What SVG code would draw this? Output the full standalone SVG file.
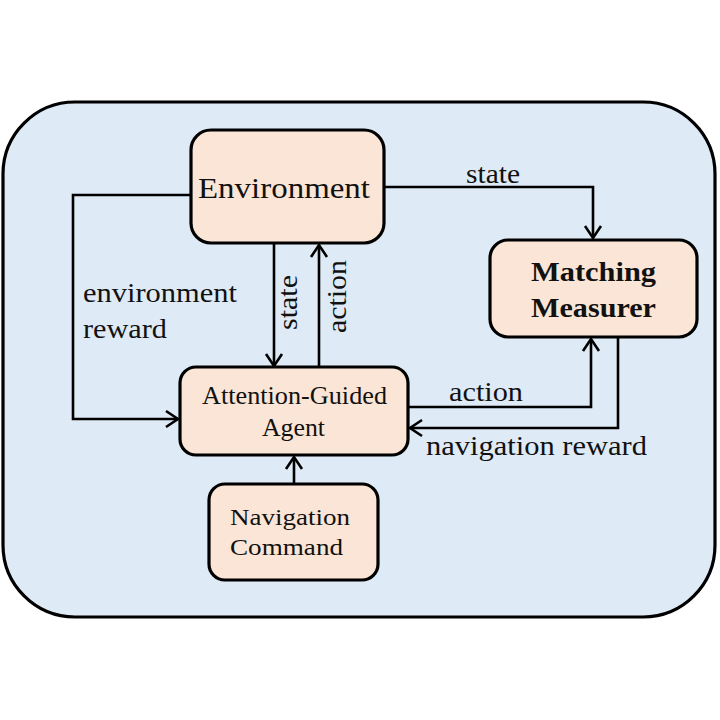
<svg xmlns="http://www.w3.org/2000/svg" width="720" height="720" viewBox="0 0 720 720">
<defs>
<marker id="arr" markerUnits="userSpaceOnUse" markerWidth="30" markerHeight="30" viewBox="-15 -15 30 30" refX="0" refY="0" orient="auto">
<path d="M-12,-8 L0,0 L-12,8" fill="none" stroke="#000" stroke-width="2.6"/>
</marker>
</defs>
<style>
.box{fill:#FBE5D6;stroke:#000;stroke-width:3.2}
.t{font-family:"Liberation Serif","Times New Roman",serif;fill:#111}
.c{fill:none;stroke:#000;stroke-width:2.6;marker-end:url(#arr)}
</style>
<rect width="720" height="720" fill="#fff"/>
<rect x="3" y="102" width="712" height="515" rx="72" ry="72" fill="#DEEAF6" stroke="#000" stroke-width="3.2"/>
<g id="connectors">
<path class="c" d="M192,195 H73 V419 H178"/>
<path class="c" d="M274,244 V366"/>
<path class="c" d="M319,367 V245"/>
<path class="c" d="M385,187 H593 V238"/>
<path class="c" d="M408,407 H591 V339"/>
<path class="c" d="M618,338 V428 H410"/>
<path class="c" d="M294,483 V457"/>
<text class="t" x="466" y="183" font-size="27" textLength="54" lengthAdjust="spacingAndGlyphs">state</text>
<text class="t" x="449" y="401" font-size="27" textLength="74" lengthAdjust="spacingAndGlyphs">action</text>
<text class="t" x="426" y="455" font-size="27" textLength="221" lengthAdjust="spacingAndGlyphs">navigation reward</text>
<text class="t" x="83" y="302" font-size="27" textLength="154" lengthAdjust="spacingAndGlyphs">environment</text>
<text class="t" x="83" y="338" font-size="27" textLength="84" lengthAdjust="spacingAndGlyphs">reward</text>
<text class="t" transform="translate(297,330) rotate(-90)" font-size="27" textLength="55" lengthAdjust="spacingAndGlyphs">state</text>
<text class="t" transform="translate(346,333) rotate(-90)" font-size="27" textLength="73" lengthAdjust="spacingAndGlyphs">action</text>
</g>
<g id="environment">
<rect class="box" x="191" y="130" width="193" height="113" rx="20"/>
<text class="t" x="198" y="198" font-size="29" textLength="172" lengthAdjust="spacingAndGlyphs">Environment</text>
</g>
<g id="matching-measurer">
<rect class="box" x="490" y="240" width="207" height="97" rx="18"/>
<text class="t" x="531" y="281" font-size="28" font-weight="bold" textLength="125" lengthAdjust="spacingAndGlyphs">Matching</text>
<text class="t" x="531" y="317" font-size="28" font-weight="bold" textLength="125" lengthAdjust="spacingAndGlyphs">Measurer</text>
</g>
<g id="agent">
<rect class="box" x="180" y="367" width="228" height="88" rx="16"/>
<text class="t" x="202" y="404" font-size="25" textLength="185" lengthAdjust="spacingAndGlyphs">Attention-Guided</text>
<text class="t" x="262" y="436" font-size="25" textLength="63" lengthAdjust="spacingAndGlyphs">Agent</text>
</g>
<g id="navigation-command">
<rect class="box" x="209" y="484" width="169" height="96" rx="16"/>
<text class="t" x="230" y="525" font-size="24" textLength="120" lengthAdjust="spacingAndGlyphs">Navigation</text>
<text class="t" x="230" y="555" font-size="24" textLength="113" lengthAdjust="spacingAndGlyphs">Command</text>
</g>
</svg>
